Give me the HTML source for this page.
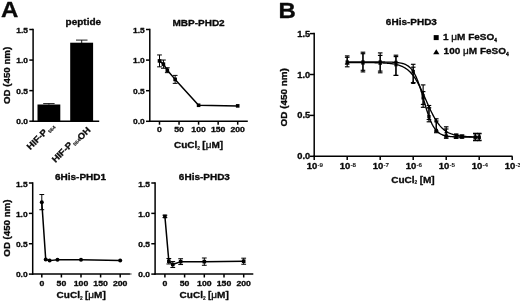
<!DOCTYPE html>
<html><head><meta charset="utf-8"><title>Figure</title>
<style>
html,body{margin:0;padding:0;background:#fff;}
svg{display:block;filter:blur(0.35px);}
svg text{font-family:"Liberation Sans",Arial,sans-serif;fill:#0a0a0a;stroke:#0a0a0a;stroke-width:0.32px;stroke-linejoin:round;}
</style></head><body>
<svg width="520" height="302" viewBox="0 0 520 302">
<rect width="520" height="302" fill="#fff"/>
<text transform="translate(1.00 17.30) scale(1.1 1)" font-size="21.82" font-weight="bold" text-anchor="start">A</text>
<text transform="translate(278.60 17.90) scale(1.1 1)" font-size="21.82" font-weight="bold" text-anchor="start">B</text>
<line x1="33.10" y1="28.75" x2="33.10" y2="121.95" stroke="#000" stroke-width="1.5" />
<line x1="29.30" y1="29.50" x2="33.10" y2="29.50" stroke="#000" stroke-width="1.5" />
<text transform="translate(28.00 33.02) scale(1.08 1)" font-size="7.78" font-weight="bold" text-anchor="end">1.5</text>
<line x1="29.30" y1="60.07" x2="33.10" y2="60.07" stroke="#000" stroke-width="1.5" />
<text transform="translate(28.00 63.34) scale(1.08 1)" font-size="7.78" font-weight="bold" text-anchor="end">1.0</text>
<line x1="29.30" y1="90.63" x2="33.10" y2="90.63" stroke="#000" stroke-width="1.5" />
<text transform="translate(28.00 93.66) scale(1.08 1)" font-size="7.78" font-weight="bold" text-anchor="end">0.5</text>
<line x1="29.30" y1="121.20" x2="33.10" y2="121.20" stroke="#000" stroke-width="1.5" />
<text transform="translate(28.00 123.97) scale(1.08 1)" font-size="7.78" font-weight="bold" text-anchor="end">0.0</text>
<line x1="32.35" y1="121.20" x2="99.20" y2="121.20" stroke="#000" stroke-width="1.5" />
<text transform="translate(9.50 75.40) rotate(-90) scale(1.15 1)" font-size="8.43" font-weight="bold" text-anchor="middle">OD (450 nm)</text>
<text transform="translate(83.30 24.90) scale(1.08 1)" font-size="9.26" font-weight="bold" text-anchor="middle">peptide</text>
<rect x="37.5" y="104.5" width="22.8" height="16.70" fill="#000"/>
<rect x="70.2" y="42.7" width="22.9" height="78.50" fill="#000"/>
<line x1="48.90" y1="103.60" x2="48.90" y2="104.60" stroke="#000" stroke-width="0.9" />
<line x1="43.20" y1="103.60" x2="54.60" y2="103.60" stroke="#000" stroke-width="0.9" />
<line x1="81.70" y1="40.10" x2="81.70" y2="43.00" stroke="#000" stroke-width="0.9" />
<line x1="76.00" y1="40.10" x2="87.50" y2="40.10" stroke="#000" stroke-width="0.9" />
<text transform="translate(30.30 150.30) rotate(-45) scale(1.08 1)" font-size="8.80" font-weight="bold" text-anchor="start">HIF-P<tspan font-size="4.7" dy="2.0" dx="0.9" stroke-width="0.1" fill="#111">564</tspan></text>
<text transform="translate(55.40 163.10) rotate(-45) scale(1.08 1)" font-size="8.80" font-weight="bold" text-anchor="start">HIF-P<tspan font-size="4.7" dy="2.0" dx="0.9" stroke-width="0.1" fill="#111">564</tspan><tspan dy="0.2" dx="-0.2">OH</tspan></text>
<line x1="149.80" y1="28.75" x2="149.80" y2="122.05" stroke="#000" stroke-width="1.5" />
<line x1="146.00" y1="29.50" x2="149.80" y2="29.50" stroke="#000" stroke-width="1.5" />
<text transform="translate(144.70 33.02) scale(1.08 1)" font-size="7.78" font-weight="bold" text-anchor="end">1.5</text>
<line x1="146.00" y1="60.10" x2="149.80" y2="60.10" stroke="#000" stroke-width="1.5" />
<text transform="translate(144.70 63.37) scale(1.08 1)" font-size="7.78" font-weight="bold" text-anchor="end">1.0</text>
<line x1="146.00" y1="90.70" x2="149.80" y2="90.70" stroke="#000" stroke-width="1.5" />
<text transform="translate(144.70 93.72) scale(1.08 1)" font-size="7.78" font-weight="bold" text-anchor="end">0.5</text>
<line x1="146.00" y1="121.30" x2="149.80" y2="121.30" stroke="#000" stroke-width="1.5" />
<text transform="translate(144.70 124.07) scale(1.08 1)" font-size="7.78" font-weight="bold" text-anchor="end">0.0</text>
<line x1="149.05" y1="121.30" x2="247.80" y2="121.30" stroke="#000" stroke-width="1.5" />
<line x1="159.50" y1="121.30" x2="159.50" y2="124.70" stroke="#000" stroke-width="1.5" />
<text transform="translate(159.50 132.30) scale(1.08 1)" font-size="8.06" font-weight="bold" text-anchor="middle">0</text>
<line x1="179.05" y1="121.30" x2="179.05" y2="124.70" stroke="#000" stroke-width="1.5" />
<text transform="translate(179.05 132.30) scale(1.08 1)" font-size="8.06" font-weight="bold" text-anchor="middle">50</text>
<line x1="198.60" y1="121.30" x2="198.60" y2="124.70" stroke="#000" stroke-width="1.5" />
<text transform="translate(198.60 132.30) scale(1.08 1)" font-size="8.06" font-weight="bold" text-anchor="middle">100</text>
<line x1="218.15" y1="121.30" x2="218.15" y2="124.70" stroke="#000" stroke-width="1.5" />
<text transform="translate(218.15 132.30) scale(1.08 1)" font-size="8.06" font-weight="bold" text-anchor="middle">150</text>
<line x1="237.70" y1="121.30" x2="237.70" y2="124.70" stroke="#000" stroke-width="1.5" />
<text transform="translate(237.70 132.30) scale(1.08 1)" font-size="8.06" font-weight="bold" text-anchor="middle">200</text>
<text transform="translate(198.60 26.30) scale(1.08 1)" font-size="9.26" font-weight="bold" text-anchor="middle">MBP-PHD2</text>
<text transform="translate(198.50 147.80) scale(1.08 1)" font-size="9.26" font-weight="bold" text-anchor="middle">CuCl<tspan font-size="4.5" dy="1.8" stroke-width="0.1">2</tspan><tspan dy="-1.8" font-size="8.0"> </tspan>[<tspan font-weight="normal">μ</tspan>M]</text>
<line x1="159.50" y1="54.96" x2="159.50" y2="66.83" stroke="#000" stroke-width="1.0" />
<line x1="157.10" y1="54.96" x2="161.90" y2="54.96" stroke="#000" stroke-width="1.0" />
<line x1="157.10" y1="66.83" x2="161.90" y2="66.83" stroke="#000" stroke-width="1.0" />
<line x1="163.41" y1="60.04" x2="163.41" y2="68.24" stroke="#000" stroke-width="1.0" />
<line x1="161.01" y1="60.04" x2="165.81" y2="60.04" stroke="#000" stroke-width="1.0" />
<line x1="161.01" y1="68.24" x2="165.81" y2="68.24" stroke="#000" stroke-width="1.0" />
<line x1="167.32" y1="67.75" x2="167.32" y2="72.65" stroke="#000" stroke-width="1.0" />
<line x1="164.92" y1="67.75" x2="169.72" y2="67.75" stroke="#000" stroke-width="1.0" />
<line x1="164.92" y1="72.65" x2="169.72" y2="72.65" stroke="#000" stroke-width="1.0" />
<line x1="175.14" y1="75.40" x2="175.14" y2="83.36" stroke="#000" stroke-width="1.0" />
<line x1="172.74" y1="75.40" x2="177.54" y2="75.40" stroke="#000" stroke-width="1.0" />
<line x1="172.74" y1="83.36" x2="177.54" y2="83.36" stroke="#000" stroke-width="1.0" />
<polyline fill="none" stroke="#000" stroke-width="1.5" stroke-linejoin="round" points="159.50,60.90 163.41,64.14 167.32,70.20 175.14,79.38 198.60,105.27 237.70,105.88"/>
<rect x="157.70" y="59.10" width="3.6" height="3.6" fill="#000"/>
<rect x="161.61" y="62.34" width="3.6" height="3.6" fill="#000"/>
<rect x="165.52" y="68.40" width="3.6" height="3.6" fill="#000"/>
<rect x="173.34" y="77.58" width="3.6" height="3.6" fill="#000"/>
<rect x="196.80" y="103.47" width="3.6" height="3.6" fill="#000"/>
<rect x="235.90" y="104.08" width="3.6" height="3.6" fill="#000"/>
<line x1="32.70" y1="182.25" x2="32.70" y2="274.85" stroke="#000" stroke-width="1.5" />
<line x1="28.90" y1="183.00" x2="32.70" y2="183.00" stroke="#000" stroke-width="1.5" />
<text transform="translate(27.60 186.52) scale(1.08 1)" font-size="7.78" font-weight="bold" text-anchor="end">1.5</text>
<line x1="28.90" y1="213.37" x2="32.70" y2="213.37" stroke="#000" stroke-width="1.5" />
<text transform="translate(27.60 216.64) scale(1.08 1)" font-size="7.78" font-weight="bold" text-anchor="end">1.0</text>
<line x1="28.90" y1="243.73" x2="32.70" y2="243.73" stroke="#000" stroke-width="1.5" />
<text transform="translate(27.60 246.76) scale(1.08 1)" font-size="7.78" font-weight="bold" text-anchor="end">0.5</text>
<line x1="28.90" y1="274.10" x2="32.70" y2="274.10" stroke="#000" stroke-width="1.5" />
<text transform="translate(27.60 276.87) scale(1.08 1)" font-size="7.78" font-weight="bold" text-anchor="end">0.0</text>
<line x1="31.95" y1="274.10" x2="130.00" y2="274.10" stroke="#000" stroke-width="1.5" />
<line x1="41.80" y1="274.10" x2="41.80" y2="277.50" stroke="#000" stroke-width="1.5" />
<text transform="translate(41.80 285.80) scale(1.08 1)" font-size="8.06" font-weight="bold" text-anchor="middle">0</text>
<line x1="61.40" y1="274.10" x2="61.40" y2="277.50" stroke="#000" stroke-width="1.5" />
<text transform="translate(61.40 285.80) scale(1.08 1)" font-size="8.06" font-weight="bold" text-anchor="middle">50</text>
<line x1="81.00" y1="274.10" x2="81.00" y2="277.50" stroke="#000" stroke-width="1.5" />
<text transform="translate(81.00 285.80) scale(1.08 1)" font-size="8.06" font-weight="bold" text-anchor="middle">100</text>
<line x1="100.60" y1="274.10" x2="100.60" y2="277.50" stroke="#000" stroke-width="1.5" />
<text transform="translate(100.60 285.80) scale(1.08 1)" font-size="8.06" font-weight="bold" text-anchor="middle">150</text>
<line x1="120.20" y1="274.10" x2="120.20" y2="277.50" stroke="#000" stroke-width="1.5" />
<text transform="translate(120.20 285.80) scale(1.08 1)" font-size="8.06" font-weight="bold" text-anchor="middle">200</text>
<text transform="translate(80.50 180.10) scale(1.08 1)" font-size="9.26" font-weight="bold" text-anchor="middle">6His-PHD1</text>
<text transform="translate(81.20 297.70) scale(1.08 1)" font-size="9.26" font-weight="bold" text-anchor="middle">CuCl<tspan font-size="4.5" dy="1.8" stroke-width="0.1">2</tspan><tspan dy="-1.8" font-size="8.0"> </tspan>[<tspan font-weight="normal">μ</tspan>M]</text>
<text transform="translate(9.50 228.10) rotate(-90) scale(1.15 1)" font-size="8.43" font-weight="bold" text-anchor="middle">OD (450 nm)</text>
<line x1="41.80" y1="194.54" x2="41.80" y2="209.72" stroke="#000" stroke-width="1.0" />
<line x1="39.40" y1="194.54" x2="44.20" y2="194.54" stroke="#000" stroke-width="1.0" />
<line x1="39.40" y1="209.72" x2="44.20" y2="209.72" stroke="#000" stroke-width="1.0" />
<polyline fill="none" stroke="#000" stroke-width="1.5" stroke-linejoin="round" points="41.80,202.13 45.72,259.52 49.64,260.62 57.48,259.71 81.00,259.71 120.20,260.62"/>
<circle cx="41.80" cy="202.13" r="2.0" fill="#000"/>
<circle cx="45.72" cy="259.52" r="2.0" fill="#000"/>
<circle cx="49.64" cy="260.62" r="2.0" fill="#000"/>
<circle cx="57.48" cy="259.71" r="2.0" fill="#000"/>
<circle cx="81.00" cy="259.71" r="2.0" fill="#000"/>
<circle cx="120.20" cy="260.62" r="2.0" fill="#000"/>
<line x1="155.10" y1="182.25" x2="155.10" y2="274.85" stroke="#000" stroke-width="1.5" />
<line x1="151.30" y1="183.00" x2="155.10" y2="183.00" stroke="#000" stroke-width="1.5" />
<text transform="translate(150.00 186.52) scale(1.08 1)" font-size="7.78" font-weight="bold" text-anchor="end">1.5</text>
<line x1="151.30" y1="213.37" x2="155.10" y2="213.37" stroke="#000" stroke-width="1.5" />
<text transform="translate(150.00 216.64) scale(1.08 1)" font-size="7.78" font-weight="bold" text-anchor="end">1.0</text>
<line x1="151.30" y1="243.73" x2="155.10" y2="243.73" stroke="#000" stroke-width="1.5" />
<text transform="translate(150.00 246.76) scale(1.08 1)" font-size="7.78" font-weight="bold" text-anchor="end">0.5</text>
<line x1="151.30" y1="274.10" x2="155.10" y2="274.10" stroke="#000" stroke-width="1.5" />
<text transform="translate(150.00 276.87) scale(1.08 1)" font-size="7.78" font-weight="bold" text-anchor="end">0.0</text>
<line x1="154.35" y1="274.10" x2="253.30" y2="274.10" stroke="#000" stroke-width="1.5" />
<line x1="164.90" y1="274.10" x2="164.90" y2="277.50" stroke="#000" stroke-width="1.5" />
<text transform="translate(164.90 285.80) scale(1.08 1)" font-size="8.06" font-weight="bold" text-anchor="middle">0</text>
<line x1="184.60" y1="274.10" x2="184.60" y2="277.50" stroke="#000" stroke-width="1.5" />
<text transform="translate(184.60 285.80) scale(1.08 1)" font-size="8.06" font-weight="bold" text-anchor="middle">50</text>
<line x1="204.30" y1="274.10" x2="204.30" y2="277.50" stroke="#000" stroke-width="1.5" />
<text transform="translate(204.30 285.80) scale(1.08 1)" font-size="8.06" font-weight="bold" text-anchor="middle">100</text>
<line x1="224.00" y1="274.10" x2="224.00" y2="277.50" stroke="#000" stroke-width="1.5" />
<text transform="translate(224.00 285.80) scale(1.08 1)" font-size="8.06" font-weight="bold" text-anchor="middle">150</text>
<line x1="243.70" y1="274.10" x2="243.70" y2="277.50" stroke="#000" stroke-width="1.5" />
<text transform="translate(243.70 285.80) scale(1.08 1)" font-size="8.06" font-weight="bold" text-anchor="middle">200</text>
<text transform="translate(204.40 180.10) scale(1.08 1)" font-size="9.26" font-weight="bold" text-anchor="middle">6His-PHD3</text>
<text transform="translate(204.20 297.70) scale(1.08 1)" font-size="9.26" font-weight="bold" text-anchor="middle">CuCl<tspan font-size="4.5" dy="1.8" stroke-width="0.1">2</tspan><tspan dy="-1.8" font-size="8.0"> </tspan>[<tspan font-weight="normal">μ</tspan>M]</text>
<line x1="164.90" y1="215.19" x2="164.90" y2="217.62" stroke="#000" stroke-width="1.0" />
<line x1="162.50" y1="215.19" x2="167.30" y2="215.19" stroke="#000" stroke-width="1.0" />
<line x1="162.50" y1="217.62" x2="167.30" y2="217.62" stroke="#000" stroke-width="1.0" />
<line x1="168.84" y1="258.49" x2="168.84" y2="263.96" stroke="#000" stroke-width="1.0" />
<line x1="166.44" y1="258.49" x2="171.24" y2="258.49" stroke="#000" stroke-width="1.0" />
<line x1="166.44" y1="263.96" x2="171.24" y2="263.96" stroke="#000" stroke-width="1.0" />
<line x1="172.78" y1="261.47" x2="172.78" y2="267.54" stroke="#000" stroke-width="1.0" />
<line x1="170.38" y1="261.47" x2="175.18" y2="261.47" stroke="#000" stroke-width="1.0" />
<line x1="170.38" y1="267.54" x2="175.18" y2="267.54" stroke="#000" stroke-width="1.0" />
<line x1="180.66" y1="258.73" x2="180.66" y2="264.56" stroke="#000" stroke-width="1.0" />
<line x1="178.26" y1="258.73" x2="183.06" y2="258.73" stroke="#000" stroke-width="1.0" />
<line x1="178.26" y1="264.56" x2="183.06" y2="264.56" stroke="#000" stroke-width="1.0" />
<line x1="204.30" y1="258.01" x2="204.30" y2="265.29" stroke="#000" stroke-width="1.0" />
<line x1="201.90" y1="258.01" x2="206.70" y2="258.01" stroke="#000" stroke-width="1.0" />
<line x1="201.90" y1="265.29" x2="206.70" y2="265.29" stroke="#000" stroke-width="1.0" />
<line x1="243.70" y1="258.19" x2="243.70" y2="264.26" stroke="#000" stroke-width="1.0" />
<line x1="241.30" y1="258.19" x2="246.10" y2="258.19" stroke="#000" stroke-width="1.0" />
<line x1="241.30" y1="264.26" x2="246.10" y2="264.26" stroke="#000" stroke-width="1.0" />
<polyline fill="none" stroke="#000" stroke-width="1.5" stroke-linejoin="round" points="164.90,216.40 168.84,261.22 172.78,264.50 180.66,261.65 204.30,261.65 243.70,261.22"/>
<rect x="163.10" y="214.60" width="3.6" height="3.6" fill="#000"/>
<rect x="167.04" y="259.42" width="3.6" height="3.6" fill="#000"/>
<rect x="170.98" y="262.70" width="3.6" height="3.6" fill="#000"/>
<rect x="178.86" y="259.85" width="3.6" height="3.6" fill="#000"/>
<rect x="202.50" y="259.85" width="3.6" height="3.6" fill="#000"/>
<rect x="241.90" y="259.42" width="3.6" height="3.6" fill="#000"/>
<line x1="129.20" y1="274.00" x2="131.60" y2="274.00" stroke="#555" stroke-width="1.2" />
<line x1="314.20" y1="32.85" x2="314.20" y2="157.05" stroke="#000" stroke-width="1.5" />
<line x1="310.00" y1="33.60" x2="314.20" y2="33.60" stroke="#000" stroke-width="1.5" />
<text transform="translate(310.20 36.92) scale(1.08 1)" font-size="8.61" font-weight="bold" text-anchor="end">1.5</text>
<line x1="310.00" y1="74.50" x2="314.20" y2="74.50" stroke="#000" stroke-width="1.5" />
<text transform="translate(310.20 77.57) scale(1.08 1)" font-size="8.61" font-weight="bold" text-anchor="end">1.0</text>
<line x1="310.00" y1="115.40" x2="314.20" y2="115.40" stroke="#000" stroke-width="1.5" />
<text transform="translate(310.20 118.22) scale(1.08 1)" font-size="8.61" font-weight="bold" text-anchor="end">0.5</text>
<line x1="310.00" y1="156.30" x2="314.20" y2="156.30" stroke="#000" stroke-width="1.5" />
<text transform="translate(310.20 158.87) scale(1.08 1)" font-size="8.61" font-weight="bold" text-anchor="end">0.0</text>
<line x1="313.45" y1="156.30" x2="512.50" y2="156.30" stroke="#000" stroke-width="1.5" />
<line x1="314.20" y1="156.30" x2="314.20" y2="160.10" stroke="#000" stroke-width="1.5" />
<text transform="translate(306.80 169.10) scale(1.08 1)" font-size="8.80" font-weight="bold" text-anchor="start">10<tspan font-size="5.8" dy="-2.5" dx="0.1" stroke-width="0.05" fill="#111">-9</tspan></text>
<line x1="347.20" y1="156.30" x2="347.20" y2="160.10" stroke="#000" stroke-width="1.5" />
<text transform="translate(339.80 169.10) scale(1.08 1)" font-size="8.80" font-weight="bold" text-anchor="start">10<tspan font-size="5.8" dy="-2.5" dx="0.1" stroke-width="0.05" fill="#111">-8</tspan></text>
<line x1="380.20" y1="156.30" x2="380.20" y2="160.10" stroke="#000" stroke-width="1.5" />
<text transform="translate(372.80 169.10) scale(1.08 1)" font-size="8.80" font-weight="bold" text-anchor="start">10<tspan font-size="5.8" dy="-2.5" dx="0.1" stroke-width="0.05" fill="#111">-7</tspan></text>
<line x1="413.20" y1="156.30" x2="413.20" y2="160.10" stroke="#000" stroke-width="1.5" />
<text transform="translate(405.80 169.10) scale(1.08 1)" font-size="8.80" font-weight="bold" text-anchor="start">10<tspan font-size="5.8" dy="-2.5" dx="0.1" stroke-width="0.05" fill="#111">-6</tspan></text>
<line x1="446.20" y1="156.30" x2="446.20" y2="160.10" stroke="#000" stroke-width="1.5" />
<text transform="translate(438.80 169.10) scale(1.08 1)" font-size="8.80" font-weight="bold" text-anchor="start">10<tspan font-size="5.8" dy="-2.5" dx="0.1" stroke-width="0.05" fill="#111">-5</tspan></text>
<line x1="479.20" y1="156.30" x2="479.20" y2="160.10" stroke="#000" stroke-width="1.5" />
<text transform="translate(471.80 169.10) scale(1.08 1)" font-size="8.80" font-weight="bold" text-anchor="start">10<tspan font-size="5.8" dy="-2.5" dx="0.1" stroke-width="0.05" fill="#111">-4</tspan></text>
<line x1="512.20" y1="156.30" x2="512.20" y2="160.10" stroke="#000" stroke-width="1.5" />
<text transform="translate(504.80 169.10) scale(1.08 1)" font-size="8.80" font-weight="bold" text-anchor="start">10<tspan font-size="5.8" dy="-2.5" dx="0.1" stroke-width="0.05" fill="#111">-3</tspan></text>
<text transform="translate(287.30 97.30) rotate(-90) scale(1.15 1)" font-size="8.61" font-weight="bold" text-anchor="middle">OD (450 nm)</text>
<text transform="translate(411.40 25.00) scale(1.08 1)" font-size="9.26" font-weight="bold" text-anchor="middle">6His-PHD3</text>
<text transform="translate(391.30 182.50) scale(1.08 1)" font-size="9.26" font-weight="bold" text-anchor="start">CuCl<tspan font-size="4.5" dy="1.8" stroke-width="0.1">2</tspan><tspan dy="-1.8" font-size="8.0"> </tspan>[M]</text>
<rect x="433.7" y="35.1" width="5" height="5" fill="#000"/>
<text transform="translate(443.00 40.00) scale(1.08 1)" font-size="9.26" font-weight="bold" text-anchor="start">1 <tspan font-weight="normal">μ</tspan>M FeSO<tspan font-size="4.5" dy="1.6">4</tspan></text>
<polygon points="433.2,54.3 439.4,54.3 436.3,49.3" fill="#000"/>
<text transform="translate(443.60 54.30) scale(1.08 1)" font-size="9.26" font-weight="bold" text-anchor="start">100 <tspan font-weight="normal">μ</tspan>M FeSO<tspan font-size="4.5" dy="1.6">4</tspan></text>
<polyline fill="none" stroke="#000" stroke-width="1.35" stroke-linejoin="round" points="347.20,61.98 347.86,61.98 348.52,61.98 349.18,61.98 349.84,61.98 350.50,61.98 351.16,61.98 351.82,61.98 352.48,61.98 353.14,61.98 353.80,61.98 354.46,61.98 355.12,61.98 355.78,61.98 356.44,61.98 357.10,61.98 357.76,61.98 358.42,61.99 359.08,61.99 359.74,61.99 360.40,61.99 361.06,61.99 361.72,61.99 362.38,61.99 363.04,61.99 363.70,61.99 364.36,61.99 365.02,61.99 365.68,61.99 366.34,61.99 367.00,61.99 367.66,61.99 368.32,61.99 368.98,61.99 369.64,61.99 370.30,61.99 370.96,61.99 371.62,61.99 372.28,61.99 372.94,61.99 373.60,61.99 374.26,61.99 374.92,61.99 375.58,62.00 376.24,62.00 376.90,62.00 377.56,62.00 378.22,62.00 378.88,62.00 379.54,62.01 380.20,62.01 380.86,62.01 381.52,62.02 382.18,62.02 382.84,62.02 383.50,62.03 384.16,62.04 384.82,62.04 385.48,62.05 386.14,62.06 386.80,62.07 387.46,62.08 388.12,62.09 388.78,62.10 389.44,62.12 390.10,62.14 390.76,62.16 391.42,62.18 392.08,62.20 392.74,62.23 393.40,62.26 394.06,62.30 394.72,62.34 395.38,62.39 396.04,62.44 396.70,62.50 397.36,62.56 398.02,62.64 398.68,62.72 399.34,62.82 400.00,62.92 400.66,63.04 401.32,63.18 401.98,63.33 402.64,63.50 403.30,63.70 403.96,63.91 404.62,64.15 405.28,64.43 405.94,64.73 406.60,65.08 407.26,65.46 407.92,65.89 408.58,66.36 409.24,66.89 409.90,67.48 410.56,68.14 411.22,68.86 411.88,69.67 412.54,70.55 413.20,71.52 413.86,72.58 414.52,73.74 415.18,75.00 415.84,76.37 416.50,77.84 417.16,79.42 417.82,81.11 418.48,82.90 419.14,84.79 419.80,86.77 420.46,88.84 421.12,90.98 421.78,93.18 422.44,95.43 423.10,97.70 423.76,99.99 424.42,102.28 425.08,104.54 425.74,106.77 426.40,108.95 427.06,111.06 427.72,113.10 428.38,115.04 429.04,116.89 429.70,118.64 430.36,120.29 431.02,121.83 431.68,123.25 432.34,124.58 433.00,125.80 433.66,126.92 434.32,127.94 434.98,128.88 435.64,129.73 436.30,130.50 436.96,131.20 437.62,131.82 438.28,132.39 438.94,132.90 439.60,133.35 440.26,133.76 440.92,134.13 441.58,134.46 442.24,134.75 442.90,135.01 443.56,135.24 444.22,135.45 444.88,135.63 445.54,135.79 446.20,135.94 446.86,136.07 447.52,136.18 448.18,136.28 448.84,136.37 449.50,136.45 450.16,136.53 450.82,136.59 451.48,136.64 452.14,136.69 452.80,136.74 453.46,136.78 454.12,136.81 454.78,136.84 455.44,136.87 456.10,136.89 456.76,136.91 457.42,136.93 458.08,136.95 458.74,136.96 459.40,136.98 460.06,136.99 460.72,137.00 461.38,137.01 462.04,137.02 462.70,137.02 463.36,137.03 464.02,137.03 464.68,137.04 465.34,137.04 466.00,137.05 466.66,137.05 467.32,137.05 467.98,137.06 468.64,137.06 469.30,137.06 469.96,137.06 470.62,137.06 471.28,137.07 471.94,137.07 472.60,137.07 473.26,137.07 473.92,137.07 474.58,137.07 475.24,137.07 475.90,137.07 476.56,137.07 477.22,137.07 477.88,137.07 478.54,137.07 479.20,137.07"/>
<polyline fill="none" stroke="#000" stroke-width="1.35" stroke-linejoin="round" points="347.20,62.56 347.86,62.56 348.52,62.56 349.18,62.56 349.84,62.56 350.50,62.56 351.16,62.57 351.82,62.57 352.48,62.57 353.14,62.57 353.80,62.57 354.46,62.57 355.12,62.57 355.78,62.57 356.44,62.57 357.10,62.57 357.76,62.58 358.42,62.58 359.08,62.58 359.74,62.58 360.40,62.58 361.06,62.58 361.72,62.59 362.38,62.59 363.04,62.59 363.70,62.59 364.36,62.60 365.02,62.60 365.68,62.61 366.34,62.61 367.00,62.61 367.66,62.62 368.32,62.62 368.98,62.63 369.64,62.63 370.30,62.64 370.96,62.65 371.62,62.66 372.28,62.66 372.94,62.67 373.60,62.68 374.26,62.69 374.92,62.71 375.58,62.72 376.24,62.73 376.90,62.75 377.56,62.76 378.22,62.78 378.88,62.80 379.54,62.82 380.20,62.84 380.86,62.86 381.52,62.89 382.18,62.91 382.84,62.94 383.50,62.98 384.16,63.01 384.82,63.05 385.48,63.09 386.14,63.14 386.80,63.18 387.46,63.24 388.12,63.29 388.78,63.35 389.44,63.42 390.10,63.49 390.76,63.57 391.42,63.65 392.08,63.74 392.74,63.84 393.40,63.95 394.06,64.06 394.72,64.18 395.38,64.32 396.04,64.46 396.70,64.62 397.36,64.78 398.02,64.96 398.68,65.16 399.34,65.37 400.00,65.59 400.66,65.84 401.32,66.10 401.98,66.38 402.64,66.69 403.30,67.01 403.96,67.36 404.62,67.74 405.28,68.14 405.94,68.57 406.60,69.03 407.26,69.52 407.92,70.05 408.58,70.61 409.24,71.21 409.90,71.84 410.56,72.52 411.22,73.23 411.88,73.99 412.54,74.79 413.20,75.64 413.86,76.53 414.52,77.47 415.18,78.46 415.84,79.49 416.50,80.57 417.16,81.69 417.82,82.86 418.48,84.07 419.14,85.32 419.80,86.62 420.46,87.95 421.12,89.31 421.78,90.71 422.44,92.14 423.10,93.58 423.76,95.05 424.42,96.54 425.08,98.03 425.74,99.53 426.40,101.03 427.06,102.53 427.72,104.02 428.38,105.49 429.04,106.95 429.70,108.38 430.36,109.79 431.02,111.17 431.68,112.51 432.34,113.82 433.00,115.09 433.66,116.32 434.32,117.51 434.98,118.65 435.64,119.74 436.30,120.79 436.96,121.79 437.62,122.75 438.28,123.66 438.94,124.52 439.60,125.34 440.26,126.12 440.92,126.85 441.58,127.54 442.24,128.19 442.90,128.80 443.56,129.38 444.22,129.91 444.88,130.42 445.54,130.89 446.20,131.33 446.86,131.75 447.52,132.13 448.18,132.49 448.84,132.83 449.50,133.14 450.16,133.43 450.82,133.70 451.48,133.95 452.14,134.18 452.80,134.40 453.46,134.60 454.12,134.78 454.78,134.96 455.44,135.12 456.10,135.26 456.76,135.40 457.42,135.53 458.08,135.65 458.74,135.76 459.40,135.86 460.06,135.95 460.72,136.04 461.38,136.11 462.04,136.19 462.70,136.26 463.36,136.32 464.02,136.38 464.68,136.43 465.34,136.48 466.00,136.53 466.66,136.57 467.32,136.61 467.98,136.64 468.64,136.68 469.30,136.71 469.96,136.74 470.62,136.76 471.28,136.79 471.94,136.81 472.60,136.83 473.26,136.85 473.92,136.87 474.58,136.88 475.24,136.90 475.90,136.91 476.56,136.92 477.22,136.94 477.88,136.95 478.54,136.96 479.20,136.97"/>
<line x1="347.20" y1="55.90" x2="347.20" y2="64.10" stroke="#000" stroke-width="1.15" />
<line x1="344.90" y1="55.90" x2="349.50" y2="55.90" stroke="#000" stroke-width="1.15" />
<line x1="344.90" y1="64.10" x2="349.50" y2="64.10" stroke="#000" stroke-width="1.15" />
<line x1="362.95" y1="52.20" x2="362.95" y2="70.30" stroke="#000" stroke-width="1.15" />
<line x1="360.65" y1="52.20" x2="365.25" y2="52.20" stroke="#000" stroke-width="1.15" />
<line x1="360.65" y1="70.30" x2="365.25" y2="70.30" stroke="#000" stroke-width="1.15" />
<line x1="380.20" y1="52.90" x2="380.20" y2="72.80" stroke="#000" stroke-width="1.15" />
<line x1="377.90" y1="52.90" x2="382.50" y2="52.90" stroke="#000" stroke-width="1.15" />
<line x1="377.90" y1="72.80" x2="382.50" y2="72.80" stroke="#000" stroke-width="1.15" />
<line x1="395.95" y1="55.20" x2="395.95" y2="75.40" stroke="#000" stroke-width="1.15" />
<line x1="393.65" y1="55.20" x2="398.25" y2="55.20" stroke="#000" stroke-width="1.15" />
<line x1="393.65" y1="75.40" x2="398.25" y2="75.40" stroke="#000" stroke-width="1.15" />
<line x1="413.20" y1="64.30" x2="413.20" y2="82.80" stroke="#000" stroke-width="1.15" />
<line x1="410.90" y1="64.30" x2="415.50" y2="64.30" stroke="#000" stroke-width="1.15" />
<line x1="410.90" y1="82.80" x2="415.50" y2="82.80" stroke="#000" stroke-width="1.15" />
<line x1="423.13" y1="84.90" x2="423.13" y2="104.40" stroke="#000" stroke-width="1.15" />
<line x1="420.83" y1="84.90" x2="425.43" y2="84.90" stroke="#000" stroke-width="1.15" />
<line x1="420.83" y1="104.40" x2="425.43" y2="104.40" stroke="#000" stroke-width="1.15" />
<line x1="428.95" y1="105.50" x2="428.95" y2="119.50" stroke="#000" stroke-width="1.15" />
<line x1="426.65" y1="105.50" x2="431.25" y2="105.50" stroke="#000" stroke-width="1.15" />
<line x1="426.65" y1="119.50" x2="431.25" y2="119.50" stroke="#000" stroke-width="1.15" />
<line x1="436.27" y1="118.80" x2="436.27" y2="131.00" stroke="#000" stroke-width="1.15" />
<line x1="433.97" y1="118.80" x2="438.57" y2="118.80" stroke="#000" stroke-width="1.15" />
<line x1="433.97" y1="131.00" x2="438.57" y2="131.00" stroke="#000" stroke-width="1.15" />
<line x1="446.20" y1="126.80" x2="446.20" y2="137.00" stroke="#000" stroke-width="1.15" />
<line x1="443.90" y1="126.80" x2="448.50" y2="126.80" stroke="#000" stroke-width="1.15" />
<line x1="443.90" y1="137.00" x2="448.50" y2="137.00" stroke="#000" stroke-width="1.15" />
<line x1="456.13" y1="134.00" x2="456.13" y2="138.30" stroke="#000" stroke-width="1.15" />
<line x1="453.83" y1="134.00" x2="458.43" y2="134.00" stroke="#000" stroke-width="1.15" />
<line x1="453.83" y1="138.30" x2="458.43" y2="138.30" stroke="#000" stroke-width="1.15" />
<line x1="461.95" y1="135.00" x2="461.95" y2="138.00" stroke="#000" stroke-width="1.15" />
<line x1="459.65" y1="135.00" x2="464.25" y2="135.00" stroke="#000" stroke-width="1.15" />
<line x1="459.65" y1="138.00" x2="464.25" y2="138.00" stroke="#000" stroke-width="1.15" />
<line x1="475.27" y1="133.30" x2="475.27" y2="140.70" stroke="#000" stroke-width="1.15" />
<line x1="472.97" y1="133.30" x2="477.57" y2="133.30" stroke="#000" stroke-width="1.15" />
<line x1="472.97" y1="140.70" x2="477.57" y2="140.70" stroke="#000" stroke-width="1.15" />
<line x1="479.20" y1="133.30" x2="479.20" y2="140.70" stroke="#000" stroke-width="1.15" />
<line x1="476.90" y1="133.30" x2="481.50" y2="133.30" stroke="#000" stroke-width="1.15" />
<line x1="476.90" y1="140.70" x2="481.50" y2="140.70" stroke="#000" stroke-width="1.15" />
<line x1="347.20" y1="57.30" x2="347.20" y2="66.80" stroke="#000" stroke-width="1.15" />
<line x1="344.90" y1="57.30" x2="349.50" y2="57.30" stroke="#000" stroke-width="1.15" />
<line x1="344.90" y1="66.80" x2="349.50" y2="66.80" stroke="#000" stroke-width="1.15" />
<line x1="362.95" y1="53.70" x2="362.95" y2="71.90" stroke="#000" stroke-width="1.15" />
<line x1="360.65" y1="53.70" x2="365.25" y2="53.70" stroke="#000" stroke-width="1.15" />
<line x1="360.65" y1="71.90" x2="365.25" y2="71.90" stroke="#000" stroke-width="1.15" />
<line x1="380.20" y1="55.40" x2="380.20" y2="71.10" stroke="#000" stroke-width="1.15" />
<line x1="377.90" y1="55.40" x2="382.50" y2="55.40" stroke="#000" stroke-width="1.15" />
<line x1="377.90" y1="71.10" x2="382.50" y2="71.10" stroke="#000" stroke-width="1.15" />
<line x1="395.95" y1="56.60" x2="395.95" y2="75.40" stroke="#000" stroke-width="1.15" />
<line x1="393.65" y1="56.60" x2="398.25" y2="56.60" stroke="#000" stroke-width="1.15" />
<line x1="393.65" y1="75.40" x2="398.25" y2="75.40" stroke="#000" stroke-width="1.15" />
<line x1="413.20" y1="67.20" x2="413.20" y2="82.80" stroke="#000" stroke-width="1.15" />
<line x1="410.90" y1="67.20" x2="415.50" y2="67.20" stroke="#000" stroke-width="1.15" />
<line x1="410.90" y1="82.80" x2="415.50" y2="82.80" stroke="#000" stroke-width="1.15" />
<line x1="423.13" y1="91.60" x2="423.13" y2="107.30" stroke="#000" stroke-width="1.15" />
<line x1="420.83" y1="91.60" x2="425.43" y2="91.60" stroke="#000" stroke-width="1.15" />
<line x1="420.83" y1="107.30" x2="425.43" y2="107.30" stroke="#000" stroke-width="1.15" />
<line x1="428.95" y1="107.80" x2="428.95" y2="121.80" stroke="#000" stroke-width="1.15" />
<line x1="426.65" y1="107.80" x2="431.25" y2="107.80" stroke="#000" stroke-width="1.15" />
<line x1="426.65" y1="121.80" x2="431.25" y2="121.80" stroke="#000" stroke-width="1.15" />
<line x1="436.27" y1="121.00" x2="436.27" y2="132.70" stroke="#000" stroke-width="1.15" />
<line x1="433.97" y1="121.00" x2="438.57" y2="121.00" stroke="#000" stroke-width="1.15" />
<line x1="433.97" y1="132.70" x2="438.57" y2="132.70" stroke="#000" stroke-width="1.15" />
<line x1="446.20" y1="129.00" x2="446.20" y2="138.30" stroke="#000" stroke-width="1.15" />
<line x1="443.90" y1="129.00" x2="448.50" y2="129.00" stroke="#000" stroke-width="1.15" />
<line x1="443.90" y1="138.30" x2="448.50" y2="138.30" stroke="#000" stroke-width="1.15" />
<line x1="456.13" y1="134.50" x2="456.13" y2="138.00" stroke="#000" stroke-width="1.15" />
<line x1="453.83" y1="134.50" x2="458.43" y2="134.50" stroke="#000" stroke-width="1.15" />
<line x1="453.83" y1="138.00" x2="458.43" y2="138.00" stroke="#000" stroke-width="1.15" />
<line x1="461.95" y1="135.20" x2="461.95" y2="137.80" stroke="#000" stroke-width="1.15" />
<line x1="459.65" y1="135.20" x2="464.25" y2="135.20" stroke="#000" stroke-width="1.15" />
<line x1="459.65" y1="137.80" x2="464.25" y2="137.80" stroke="#000" stroke-width="1.15" />
<line x1="475.27" y1="133.80" x2="475.27" y2="140.20" stroke="#000" stroke-width="1.15" />
<line x1="472.97" y1="133.80" x2="477.57" y2="133.80" stroke="#000" stroke-width="1.15" />
<line x1="472.97" y1="140.20" x2="477.57" y2="140.20" stroke="#000" stroke-width="1.15" />
<line x1="479.20" y1="133.80" x2="479.20" y2="140.20" stroke="#000" stroke-width="1.15" />
<line x1="476.90" y1="133.80" x2="481.50" y2="133.80" stroke="#000" stroke-width="1.15" />
<line x1="476.90" y1="140.20" x2="481.50" y2="140.20" stroke="#000" stroke-width="1.15" />
<rect x="345.55" y="60.33" width="3.3" height="3.3" fill="#000"/>
<polygon points="345.20,64.36 349.20,64.36 347.20,60.76" fill="#000"/>
<rect x="361.30" y="60.34" width="3.3" height="3.3" fill="#000"/>
<polygon points="360.95,64.39 364.95,64.39 362.95,60.79" fill="#000"/>
<rect x="378.55" y="60.36" width="3.3" height="3.3" fill="#000"/>
<polygon points="378.20,64.64 382.20,64.64 380.20,61.04" fill="#000"/>
<rect x="394.30" y="60.78" width="3.3" height="3.3" fill="#000"/>
<polygon points="393.95,66.24 397.95,66.24 395.95,62.64" fill="#000"/>
<rect x="411.55" y="69.87" width="3.3" height="3.3" fill="#000"/>
<polygon points="411.20,84.07 415.20,84.07 413.20,80.47" fill="#000"/>
<rect x="421.48" y="96.17" width="3.3" height="3.3" fill="#000"/>
<polygon points="421.13,95.46 425.13,95.46 423.13,91.86" fill="#000"/>
<rect x="427.30" y="114.98" width="3.3" height="3.3" fill="#000"/>
<polygon points="426.95,108.54 430.95,108.54 428.95,104.94" fill="#000"/>
<rect x="434.62" y="128.81" width="3.3" height="3.3" fill="#000"/>
<polygon points="434.27,122.54 438.27,122.54 436.27,118.94" fill="#000"/>
<rect x="444.55" y="134.29" width="3.3" height="3.3" fill="#000"/>
<polygon points="444.20,133.13 448.20,133.13 446.20,129.53" fill="#000"/>
<rect x="454.48" y="135.24" width="3.3" height="3.3" fill="#000"/>
<polygon points="454.13,137.07 458.13,137.07 456.13,133.47" fill="#000"/>
<rect x="460.30" y="135.36" width="3.3" height="3.3" fill="#000"/>
<polygon points="459.95,137.98 463.95,137.98 461.95,134.38" fill="#000"/>
<rect x="473.62" y="135.42" width="3.3" height="3.3" fill="#000"/>
<polygon points="473.27,138.70 477.27,138.70 475.27,135.10" fill="#000"/>
<rect x="477.55" y="135.42" width="3.3" height="3.3" fill="#000"/>
<polygon points="477.20,138.77 481.20,138.77 479.20,135.17" fill="#000"/>
</svg>
</body></html>
